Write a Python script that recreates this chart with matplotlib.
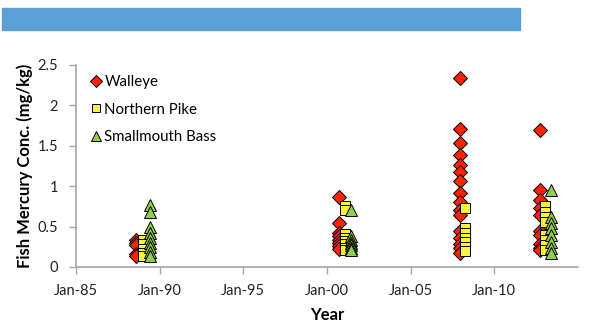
import matplotlib
matplotlib.use("Agg")
import matplotlib.pyplot as plt
from matplotlib.patches import Rectangle

plt.rcParams['font.family'] = ['Lato', 'DejaVu Sans']

# sampling dates (decimal years) and mercury values (mg/kg)
walleye_x = [1988.6, 2000.7, 2007.95, 2012.7]
walleye_y = [
    [0.34, 0.30, 0.27, 0.16, 0.13],
    [0.87, 0.55, 0.42, 0.38, 0.34, 0.30, 0.26, 0.22],
    [2.34, 1.71, 1.53, 1.38, 1.26, 1.17, 1.07, 0.92, 0.81, 0.71, 0.64,
     0.44, 0.36, 0.29, 0.23, 0.17],
    [1.70, 0.95, 0.83, 0.73, 0.64, 0.44, 0.40, 0.29, 0.24, 0.21],
]
pike_x = [1989.0, 2001.1, 2008.25, 2013.05]
pike_y = [
    [0.33, 0.28, 0.22, 0.17, 0.13],
    [0.76, 0.71, 0.41, 0.36, 0.32, 0.28, 0.24, 0.21],
    [0.73, 0.48, 0.42, 0.36, 0.31, 0.25, 0.20],
    [0.75, 0.68, 0.62, 0.56, 0.40, 0.33, 0.27, 0.21],
]
bass_x = [1989.45, 2001.45, 2013.4]
bass_y = [
    [0.77, 0.68, 0.49, 0.42, 0.36, 0.30, 0.25, 0.19, 0.13],
    [0.70, 0.38, 0.34, 0.30, 0.27, 0.24, 0.21],
    [0.95, 0.62, 0.54, 0.48, 0.40, 0.31, 0.23, 0.17],
]
tick_years = [1985, 1990, 1995, 2000, 2005, 2010]
tick_labels = ['Jan-85', 'Jan-90', 'Jan-95', 'Jan-00', 'Jan-05', 'Jan-10']


def flatten(xs, ys):
    px, py = [], []
    for x, vals in zip(xs, ys):
        px += [x] * len(vals)
        py += vals
    return px, py


W, H = 597, 324
fig = plt.figure(figsize=(W / 100, H / 100), dpi=100)
fig.patches.append(Rectangle((2 / W, 1 - 30 / H), 518 / W, 22 / H,
                             transform=fig.transFigure, color='#5A9FD5'))

ax = fig.add_axes([76 / W, 57 / H, 502 / W, 202 / H])

x, y = flatten(walleye_x, walleye_y)
ax.plot(x, y, 'D', color='#FF2200', mec='black', mew=0.7, ms=7.5,
        label='Walleye', clip_on=False)
x, y = flatten(pike_x, pike_y)
ax.plot(x, y, 's', color='#FFF23A', mec='black', mew=0.7, ms=6.5,
        label='Northern Pike', clip_on=False)
x, y = flatten(bass_x, bass_y)
ax.plot(x, y, '^', color='#92CD4F', mec='black', mew=0.7, ms=8.5,
        label='Smallmouth Bass', clip_on=False)

ax.set_xlim(1985, 2015)
ax.set_ylim(0, 2.5)
ax.set_xticks(tick_years)
ax.set_xticklabels(tick_labels)
ax.set_yticks([0, 0.5, 1, 1.5, 2, 2.5])
ax.set_yticklabels(['0', '0.5', '1', '1.5', '2', '2.5'])

for s in ['top', 'right']:
    ax.spines[s].set_visible(False)
for s in ['left', 'bottom']:
    ax.spines[s].set_color('#A6A6A6')
    ax.spines[s].set_linewidth(1.2)
ax.tick_params(colors='#A6A6A6', labelcolor='#222222', labelsize=10.5,
               length=5, width=1)
ax.tick_params(axis='y', pad=8)
ax.tick_params(axis='x', pad=7)

ax.set_xlabel('Year', fontsize=12, fontweight='bold', labelpad=7)
ax.set_ylabel('Fish Mercury Conc. (mg/kg)', fontsize=12, fontweight='bold',
              labelpad=3)

ax.legend(loc='upper left', bbox_to_anchor=(82 / W, 1 - 69 / H),
          bbox_transform=fig.transFigure, frameon=False, fontsize=10.8,
          handletextpad=0.1, handlelength=1.0, labelspacing=0.9,
          borderaxespad=0, markerscale=0.8)

fig.savefig('out.png', dpi=100)
